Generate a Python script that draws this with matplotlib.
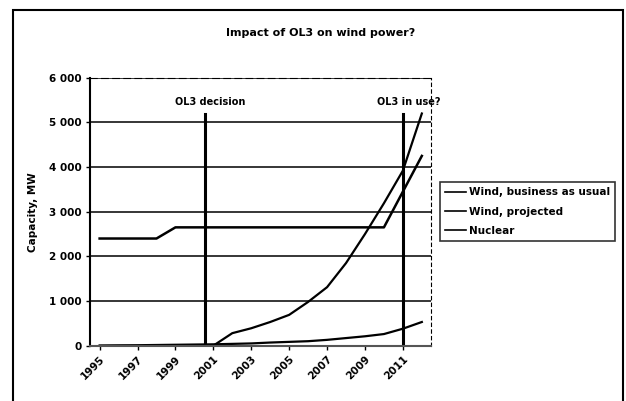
import matplotlib.pyplot as plt
from matplotlib.patches import Rectangle

years = list(range(1995, 2013))
tick_years = list(range(1995, 2012, 2))

# capacity, MW
nuclear = [2400, 2400, 2400, 2400, 2650, 2650, 2650, 2650, 2650, 2650,
           2650, 2650, 2650, 2650, 2650, 2650, 3450, 4250]
wind_projected = [None, None, None, None, None, None, 0, 280, 390, 530,
                  690, 980, 1310, 1850, 2500, 3190, 3920, 5200]
wind_bau = [5, 8, 10, 15, 20, 25, 30, 40, 50, 70,
            85, 100, 130, 170, 210, 260, 380, 530]

events = ["OL3 decision", "OL3 in use?"]
event_years = [2000.55, 2011]
event_top = 5200

plt.rcParams['font.family'] = ['DejaVu Sans']

fig = plt.figure(figsize=(6.26, 4.01), dpi=100)
ax = fig.add_axes([0.144, 0.138, 0.545, 0.668])

x = [y - 1995 for y in years]
xp = [xi for xi, v in zip(x, wind_projected) if v is not None]
yp = [v for v in wind_projected if v is not None]

ax.plot(x, wind_bau, color='black', lw=1.6, label="Wind, business as usual")
ax.plot(xp, yp, color='black', lw=1.6, label="Wind, projected")
ax.plot(x, nuclear, color='black', lw=1.8, label="Nuclear")

for name, ey in zip(events, event_years):
    ex = ey - 1995
    ax.plot([ex, ex], [0, event_top], color='black', lw=2.2)
    ax.text(ex + 0.3, 5450, name, ha='center', va='center', fontsize=7, fontweight='bold')

ax.set_xlim(-0.5, 17.5)
ax.set_ylim(0, 6000)
ax.set_yticks(range(0, 6001, 1000))
ax.set_yticklabels(["0", "1 000", "2 000", "3 000", "4 000", "5 000", "6 000"],
                   fontsize=7.5, fontweight='bold')
ax.set_xticks([ty - 1995 for ty in tick_years])
ax.set_xticklabels([str(t) for t in tick_years], rotation=45, ha='right',
                   rotation_mode='anchor', fontsize=7.5, fontweight='bold')
ax.set_ylabel("Capacity, MW", fontsize=7.5, fontweight='bold', labelpad=8)
ax.grid(axis='y', color='black', lw=1.1)
ax.set_axisbelow(True)
ax.tick_params(length=3, width=1, pad=3)

ax.spines['left'].set_linewidth(1.5)
ax.spines['bottom'].set_linewidth(1.5)
ax.spines['bottom'].set_color('#555555')
ax.spines['top'].set_linestyle((0, (6, 4)))
ax.spines['right'].set_linestyle((0, (3, 3)))
ax.spines['right'].set_linewidth(0.8)

fig.text(0.512, 0.917, "Impact of OL3 on wind power?", ha='center', va='center',
         fontsize=8, fontweight='bold')

leg = ax.legend(loc='center left', bbox_to_anchor=(1.025, 0.50), fontsize=7.5,
                frameon=True, fancybox=False, edgecolor='black',
                handlelength=2.0, handletextpad=0.3, borderpad=0.5,
                labelspacing=0.9, borderaxespad=0)
for t in leg.get_texts():
    t.set_fontweight('bold')
for h in leg.get_lines():
    h.set_linewidth(1.2)
leg.get_frame().set_linewidth(1.2)

fig.patches.append(Rectangle((0.02, -0.02), 0.975, 0.995, transform=fig.transFigure,
                             fill=False, edgecolor='black', lw=1.5))

fig.savefig("out.png", dpi=100)
